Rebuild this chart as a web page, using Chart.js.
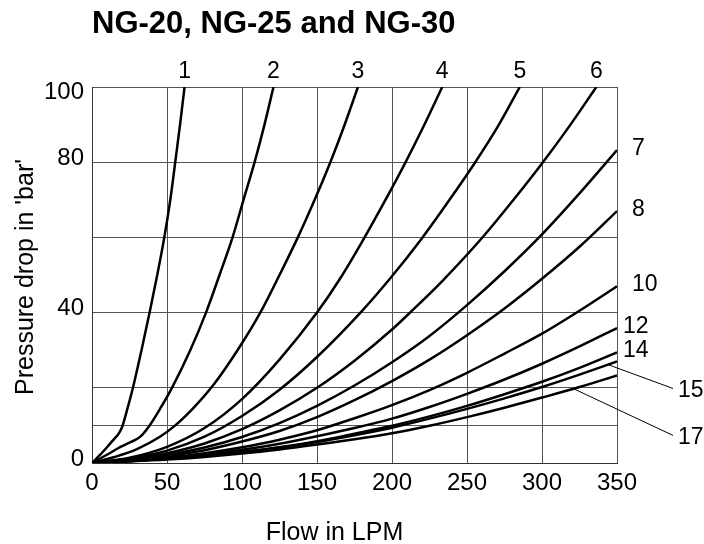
<!DOCTYPE html>
<html><head><meta charset="utf-8">
<script src="https://cdn.jsdelivr.net/npm/chart.js@4/dist/chart.umd.min.js"></script>
<style>html,body{margin:0;padding:0;background:#fff}#wrap{width:704px;height:544px}</style>
</head><body><div id="wrap"><canvas id="c" width="704" height="544"></canvas></div>
<script>
const chartTitle = "NG-20, NG-25 and NG-30";
const xAxisTitle = "Flow in LPM";
const yAxisTitle = "Pressure drop in 'bar'";
const xTickValues = [0, 50, 100, 150, 200, 250, 300, 350];
const yGridValues = [0, 10, 20, 40, 60, 80, 100];
const yTickLabels = [0, 40, 80, 100];
const curveNames = ["1", "2", "3", "4", "5", "6", "7", "8", "10", "12", "14", "15", "17"];

const flow1 = [0, 5, 10, 15, 17.8, 20, 23.3, 27.3, 33, 38.4, 43.5, 48.2, 52.2, 55.5, 58.7, 61.7];
const drop1 = [0, 2, 4.2, 6.5, 7.8, 9.5, 14, 20, 30, 40, 50, 60, 70, 80, 90, 100];
const flow2 = [0, 10, 19, 26, 32.2, 38.4, 45.5, 53.3, 65.5, 76, 85, 93.7, 101, 108.4, 115, 121];
const drop2 = [0, 2.2, 4.3, 5.6, 7, 10, 14.5, 20, 30, 40, 50, 60, 70, 80, 90, 100];
const flow3 = [0, 15, 30, 45, 55.5, 68, 81, 97, 112.2, 125, 137, 148, 158.9, 168, 177.3];
const drop3 = [0, 1.6, 3.7, 6.9, 10, 14.8, 20.8, 30, 40, 50, 59.8, 69.6, 80, 89.5, 100];
const flow4 = [0, 25, 50, 75, 100, 125, 150, 165, 180.7, 195, 208.4, 221, 233.5];
const drop4 = [0, 1.4, 4.3, 9.3, 17, 27.5, 40, 48.8, 59.3, 69.5, 79.5, 89.5, 100];
const flow5 = [0, 25, 50, 75, 100, 125, 150, 179, 199, 220, 238, 255.5, 271, 285.2];
const drop5 = [0, 1.2, 3.3, 7, 12.5, 19.5, 28.2, 40, 49.2, 59.8, 69.8, 80, 89.8, 100];
const flow6 = [0, 25, 50, 75, 100, 125, 150, 175, 200, 212, 234, 261, 281, 301, 319, 336.2];
const drop6 = [0, 1, 2.6, 5.2, 9, 14, 20, 27.2, 35.5, 40, 48.6, 60.3, 70, 80.2, 90, 100];
const flowGrid = [0, 25, 50, 75, 100, 125, 150, 175, 200, 225, 250, 275, 300, 325, 350];
const drop7 = [0, 0.8, 2.1, 4.1, 6.9, 10.6, 15.2, 20.6, 26.8, 33.8, 42, 51, 60.8, 71.7, 83.2];
const drop8 = [0, 0.7, 1.8, 3.4, 5.7, 8.5, 12.2, 16.7, 21.8, 27.5, 34, 41.1, 49, 57.5, 67];
const drop10 = [0, 0.6, 1.4, 2.6, 4.2, 6.2, 8.7, 11.9, 15.4, 19.4, 24, 29.1, 34.4, 40.5, 47];
const drop12 = [0, 0.5, 1.2, 2.2, 3.5, 5.1, 7.1, 9.3, 11.8, 14.9, 18.4, 22.2, 26.4, 31, 35.9];
const drop14 = [0, 0.5, 1.1, 1.9, 2.9, 4.2, 5.8, 7.8, 9.9, 12.4, 15.2, 18.3, 21.6, 25.3, 29.4];
const drop15 = [0, 0.5, 1.1, 1.9, 2.9, 4.1, 5.6, 7.4, 9.4, 11.8, 14.4, 17.2, 20.2, 23.5, 27];
const drop17 = [0, 0.4, 0.9, 1.6, 2.5, 3.6, 4.9, 6.3, 7.9, 9.9, 12.2, 14.7, 17.4, 20.2, 23.3];

const curveFlows = [flow1, flow2, flow3, flow4, flow5, flow6, flowGrid, flowGrid, flowGrid, flowGrid, flowGrid, flowGrid, flowGrid];
const curveDrops = [drop1, drop2, drop3, drop4, drop5, drop6, drop7, drop8, drop10, drop12, drop14, drop15, drop17];

const FONT = '"Liberation Sans", Arial, Helvetica, sans-serif';

function interp(xs, ys, v) {
  for (let i = 1; i < xs.length; i++) {
    if (v <= xs[i]) {
      const t = (v - xs[i - 1]) / (xs[i] - xs[i - 1]);
      return ys[i - 1] + t * (ys[i] - ys[i - 1]);
    }
  }
  return ys[ys.length - 1];
}

const leaderFrom = { "15": 344, "17": 321 };
const leaderDy = { "15": 29, "17": 62 };
const rightGap = { "7": 15, "8": 15, "10": 15, "12": 6, "14": 6 };

const annotPlugin = {
  id: 'annot',
  afterDraw(chart) {
    const { ctx, chartArea: ca, scales } = chart;
    const x = scales.x, y = scales.y;
    ctx.save();
    ctx.fillStyle = '#000';
    ctx.strokeStyle = '#000';
    ctx.font = 'bold 31px ' + FONT;
    ctx.textAlign = 'left';
    ctx.textBaseline = 'alphabetic';
    ctx.fillText(chartTitle, ca.left, 33);
    ctx.font = '25px ' + FONT;
    ctx.textAlign = 'center';
    ctx.fillText(xAxisTitle, (ca.left + ca.right) / 2 - 20, 540);
    ctx.save();
    ctx.translate(32.5, (ca.top + ca.bottom) / 2 + 2);
    ctx.rotate(-Math.PI / 2);
    ctx.fillText(yAxisTitle, 0, 0);
    ctx.restore();
    ctx.font = '24px ' + FONT;
    ctx.textAlign = 'right';
    ctx.textBaseline = 'middle';
    yTickLabels.forEach(v => {
      const py = y.getPixelForValue(v) + (v === y.max ? 5 : -4);
      ctx.fillText(String(v), ca.left - 8, py);
    });
    ctx.font = '23px ' + FONT;
    curveNames.forEach((name, i) => {
      const xs = curveFlows[i], ys = curveDrops[i];
      const lx = xs[xs.length - 1], ly = ys[ys.length - 1];
      if (ly >= y.max) {
        ctx.textAlign = 'center';
        ctx.textBaseline = 'alphabetic';
        ctx.fillText(name, x.getPixelForValue(lx), ca.top - 9.5);
      } else if (leaderFrom[name] !== undefined) {
        const endPy = y.getPixelForValue(ly);
        const labY = endPy + leaderDy[name];
        const fx = leaderFrom[name];
        const sx = x.getPixelForValue(fx), sy = y.getPixelForValue(interp(xs, ys, fx));
        ctx.lineWidth = 1;
        ctx.beginPath();
        ctx.moveTo(sx, sy);
        ctx.lineTo(ca.right + 56, labY - 2);
        ctx.stroke();
        ctx.textAlign = 'left';
        ctx.textBaseline = 'middle';
        ctx.fillText(name, ca.right + 61, labY);
      } else {
        ctx.textAlign = 'left';
        ctx.textBaseline = 'middle';
        ctx.fillText(name, ca.right + (rightGap[name] || 10), y.getPixelForValue(ly) - 1.5);
      }
    });
    ctx.restore();
  }
};

const datasets = curveNames.map((name, i) => ({
  label: name,
  data: curveFlows[i].map((f, k) => ({ x: f, y: curveDrops[i][k] })),
  borderColor: '#000',
  borderWidth: 2.5,
  pointRadius: 0,
  fill: false,
  cubicInterpolationMode: 'monotone'
}));

new Chart(document.getElementById('c'), {
  type: 'line',
  data: { datasets },
  options: {
    responsive: false,
    animation: false,
    devicePixelRatio: 1,
    layout: { padding: { top: 87, right: 87, left: 0, bottom: 0 } },
    plugins: { legend: { display: false }, tooltip: { enabled: false }, title: { display: false } },
    scales: {
      x: {
        type: 'linear',
        min: 0, max: 350,
        afterBuildTicks: s => { s.ticks = xTickValues.map(v => ({ value: v })); },
        afterFit: s => { s.height = 81; },
        grid: { color: '#555', lineWidth: 1, drawTicks: false },
        border: { display: true, color: '#333', width: 1 },
        ticks: { color: '#000', padding: 6, font: { family: FONT, size: 24 }, maxRotation: 0 }
      },
      y: {
        type: 'linear',
        min: 0, max: 100,
        afterBuildTicks: s => { s.ticks = yGridValues.map(v => ({ value: v })); },
        afterFit: s => { s.width = 92; },
        grid: { color: '#555', lineWidth: 1, drawTicks: false },
        border: { display: true, color: '#333', width: 1 },
        ticks: { display: false }
      }
    }
  },
  plugins: [annotPlugin]
});
</script>
</body></html>
